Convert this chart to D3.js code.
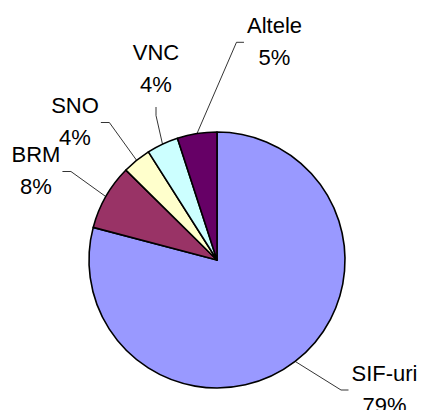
<!DOCTYPE html>
<html>
<head>
<meta charset="utf-8">
<script src="https://cdn.jsdelivr.net/npm/d3@7"></script>
<style>
  body { margin: 0; background: #fff; }
  text { font-family: 'Liberation Sans', Arial, sans-serif; }
</style>
</head>
<body>
<script>
var width = 424;
var height = 410;

// data (share of total, %)
var names = ['SIF-uri', 'BRM', 'SNO', 'VNC', 'Altele'];
var values = [79.1, 8.3, 3.6, 4.0, 5.0];
var labels = ['79%', '8%', '4%', '4%', '5%'];
var colors = ['#9999ff', '#993366', '#ffffcc', '#ccffff', '#660066'];

// where each label sits (center x, first baseline) and which side the leader joins
var labelPos = [
    {x: 384.5, y: 381, side: 'left'},
    {x: 36, y: 162, side: 'right'},
    {x: 75, y: 113, side: 'right'},
    {x: 156, y: 60, side: 'bottom'},
    {x: 274.5, y: 33.3, side: 'left'}
];

var cx = 217, cy = 260, r = 128;

var svg = d3.select('body').append('svg')
    .attr('width', width)
    .attr('height', height)

var pie = d3.pie().sort(null).value(d => d.value)
var arcs = pie(names.map((n, i) => ({name: n, value: values[i], i: i})))

var arc = d3.arc().innerRadius(0).outerRadius(r)

var g = svg.append('g').attr('transform', 'translate(' + cx + ',' + cy + ')')

g.selectAll('path')
    .data(arcs).enter()
    .append('path')
        .attr('d', arc)
        .attr('fill', d => colors[d.data.i])
        .attr('stroke', '#000')
        .attr('stroke-width', 1.6)
        .attr('stroke-linejoin', 'round')

var lab = svg.append('g')
var texts = lab.selectAll('text')
    .data(arcs).enter()
    .append('text')
        .attr('text-anchor', 'middle')
        .attr('font-size', '22px')
        .attr('fill', '#000')

texts.append('tspan')
    .attr('x', d => labelPos[d.data.i].x)
    .attr('y', d => labelPos[d.data.i].y)
    .text(d => d.data.name)
texts.append('tspan')
    .attr('x', d => labelPos[d.data.i].x)
    .attr('y', d => labelPos[d.data.i].y + 31.7)
    .text(d => labels[d.data.i])

// leader lines: arc point at mid angle -> elbow -> label edge
texts.each(function(d){
    var p = labelPos[d.data.i]
    var bb = this.getBBox()
    var a = (d.startAngle + d.endAngle) / 2
    var start = [cx + r * Math.sin(a), cy - r * Math.cos(a)]
    var end, elbow
    if(p.side == 'left'){
        end = [bb.x - 3, p.y + 9]
        elbow = [end[0] - 7.5, end[1]]
    } else if(p.side == 'right'){
        end = [bb.x + bb.width + 2, p.y + 9.5]
        elbow = [end[0] + 8.5, end[1]]
    } else {
        end = [p.x, p.y + 47]
        elbow = [p.x, end[1] + 8.5]
    }
    svg.insert('polyline', 'g')
        .attr('points', [start, elbow, end].map(q => q.join(',')).join(' '))
        .attr('fill', 'none')
        .attr('stroke', '#000')
        .attr('stroke-width', 0.8)
})
</script>
</body>
</html>
